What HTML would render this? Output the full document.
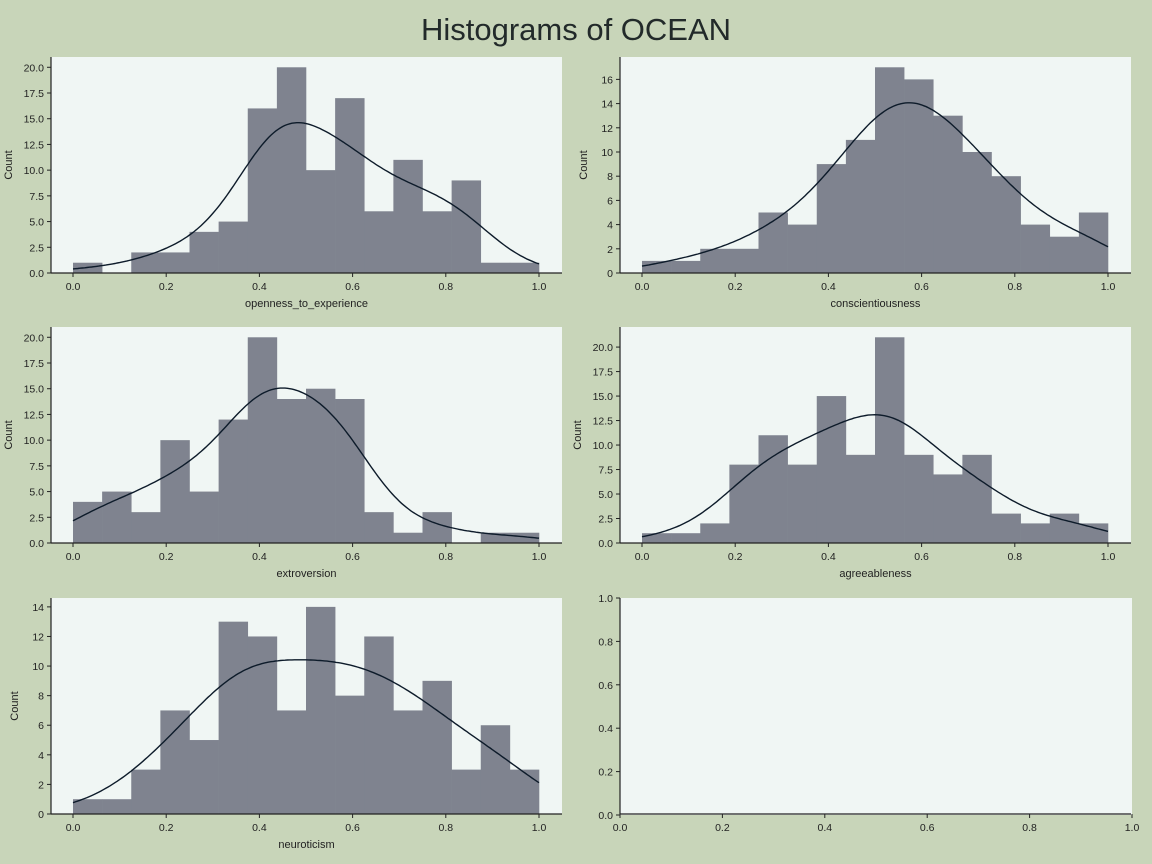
<!DOCTYPE html>
<html><head><meta charset="utf-8"><style>
body{margin:0;background:#c8d5b9;}
svg{display:block;font-family:"Liberation Sans",sans-serif;}
</style></head><body>
<svg id="chart" width="1152" height="864">
<rect width="1152" height="864" fill="#c8d5b9"/>
<text x="576" y="40" text-anchor="middle" font-size="31" fill="#222a2a">Histograms of OCEAN</text>
</svg>
<script>
const labels = ["openness_to_experience","conscientiousness","extroversion","agreeableness","neuroticism"];
const openness = [1,0,2,2,4,5,16,20,10,17,6,11,6,9,1,1];
const conscientiousness = [1,1,2,2,5,4,9,11,17,16,13,10,8,4,3,5];
const extroversion = [4,5,3,10,5,12,20,14,15,14,3,1,3,0,1,1];
const agreeableness = [1,1,2,8,11,8,15,9,21,9,7,9,3,2,3,2];
const neuroticism = [1,1,3,7,5,13,12,7,14,8,12,7,9,3,6,3];
const yTicks = [[0,2.5,5,7.5,10,12.5,15,17.5,20],[0,2,4,6,8,10,12,14,16],[0,2.5,5,7.5,10,12.5,15,17.5,20],[0,2.5,5,7.5,10,12.5,15,17.5,20],[0,2,4,6,8,10,12,14]];
const yMax = [21,17.85,21,22.05,14.6];
const xTicks = [0,0.2,0.4,0.6,0.8,1.0];
const series = [openness,conscientiousness,extroversion,agreeableness,neuroticism];

const NS="http://www.w3.org/2000/svg";
const svg=document.getElementById('chart');
function mk(tag,attrs,parent){const e=document.createElementNS(NS,tag);for(const k in attrs)e.setAttribute(k,attrs[k]);(parent||svg).appendChild(e);return e;}
const panels=[[51,57],[620,57],[51,327],[620,327],[51,598],[620,598]];
const W=511,H=216;
function fmt(v,dec){return v.toFixed(dec);}
function drawAxes(g,px,py,xs,ys,yt,ydec,xt,xdec){
  const ax=mk('line',{x1:px,y1:py,x2:px,y2:py+H,stroke:'#222',"stroke-width":1.2},g);
  
  const bx=mk('line',{x1:px,y1:py+H,x2:px+W,y2:py+H,stroke:'#222',"stroke-width":1.2},g);
  
  yt.forEach(v=>{const y=ys(v);mk('line',{x1:px-4,y1:y,x2:px,y2:y,stroke:'#222'},g);
    const t=mk('text',{x:px-7,y:y+4,"text-anchor":"end","font-size":10.5,fill:'#222'},g);t.textContent=fmt(v,ydec);
    });
  xt.forEach(v=>{const x=xs(v);mk('line',{x1:x,y1:py+H,x2:x,y2:py+H+4,stroke:'#222'},g);
    const t=mk('text',{x:x,y:py+H+17,"text-anchor":"middle","font-size":10.5,fill:'#222'},g);t.textContent=fmt(v,xdec);
    });
}
series.forEach((counts,i)=>{
  const [px,py]=panels[i];
  const g=mk('g',{});
  
  
  mk('rect',{x:px,y:py,width:W,height:H,fill:'#f0f6f4'},g);
  const xs=v=>px+22+v*466;
  const ys=v=>py+H-v*H/yMax[i];
  const n=counts.length,bw=1/n;
  counts.forEach((c,j)=>{ if(c<=0) return;
    const r=mk('rect',{x:xs(j*bw),y:ys(c),width:xs((j+1)*bw)-xs(j*bw)+0.3,height:ys(0)-ys(c),fill:'#7f838f'},g);
    });
  let N=0,mean=0;counts.forEach((c,j)=>{N+=c;mean+=c*(j+0.5)*bw;});mean/=N;
  let vr=0;counts.forEach((c,j)=>{vr+=c*Math.pow((j+0.5)*bw-mean,2);});vr/=N;
  const h=1.12*Math.sqrt(vr)*Math.pow(N,-0.2);
  let d='';
  for(let k=0;k<=200;k++){const x=k/200;let s=0;
    counts.forEach((c,j)=>{const z=(x-(j+0.5)*bw)/h;s+=c*Math.exp(-0.5*z*z);});
    const dens=s/(N*h*Math.sqrt(2*Math.PI));const y=dens*N*bw;
    d+=(k?'L':'M')+xs(x).toFixed(1)+','+ys(y).toFixed(1);}
  const p=mk('path',{d:d,fill:'none',stroke:'#0d1b2a',"stroke-width":1.4},g);
  
  const dec=yTicks[i].some(v=>v%1)?1:0;
  drawAxes(g,px,py,xs,ys,yTicks[i],dec,xTicks,1);
  const xl=mk('text',{x:px+W/2,y:py+H+34,"text-anchor":"middle","font-size":11,fill:'#222'},g);xl.textContent=labels[i];
  
  const lx=dec?px-39:px-33;
  const yl=mk('text',{x:lx,y:py+H/2,"text-anchor":"middle","font-size":11,fill:'#222',transform:`rotate(-90 ${lx} ${py+H/2})`},g);yl.textContent='Count';
  
});
(function(){const [px,py]=panels[5];const g=mk('g',{});
  
  mk('rect',{x:px,y:py,width:W+1,height:H+1,fill:'#f0f6f4'},g);
  const xs=v=>px+v*512, ys=v=>py+H+1-v*217;
  drawAxes(g,px,py,xs,ys,[0,0.2,0.4,0.6,0.8,1.0],1,xTicks,1);})();
</script>
</body></html>
